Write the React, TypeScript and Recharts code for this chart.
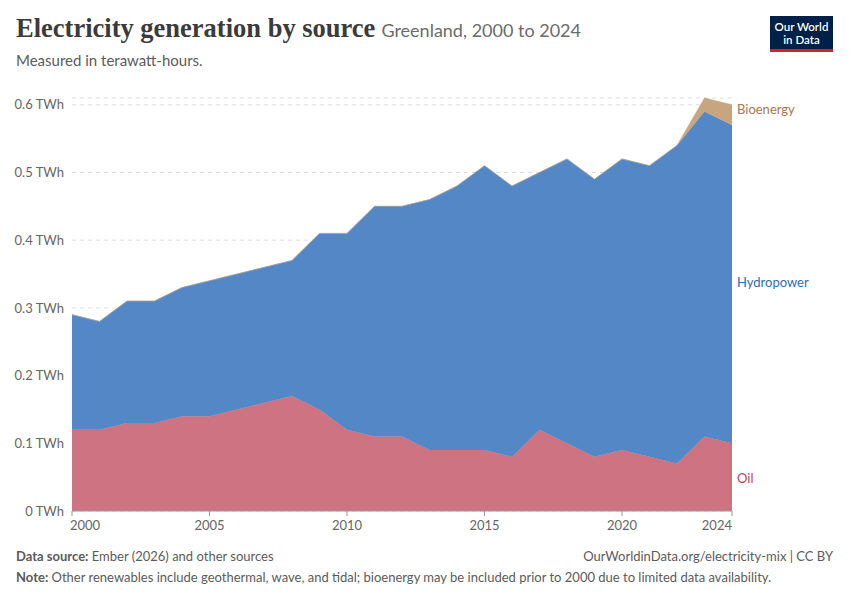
import React from "react";
import {
  AreaChart,
  Area,
  XAxis,
  YAxis,
  CartesianGrid,
} from "recharts";

const years = [
  2000, 2001, 2002, 2003, 2004, 2005, 2006, 2007, 2008, 2009, 2010, 2011, 2012,
  2013, 2014, 2015, 2016, 2017, 2018, 2019, 2020, 2021, 2022, 2023, 2024,
];
const oil = [
  0.12, 0.12, 0.13, 0.13, 0.14, 0.14, 0.15, 0.16, 0.17, 0.15, 0.12, 0.11, 0.11,
  0.09, 0.09, 0.09, 0.08, 0.12, 0.1, 0.08, 0.09, 0.08, 0.07, 0.11, 0.1,
];
const hydropower = [
  0.17, 0.16, 0.18, 0.18, 0.19, 0.2, 0.2, 0.2, 0.2, 0.26, 0.29, 0.34, 0.34,
  0.37, 0.39, 0.42, 0.4, 0.38, 0.42, 0.41, 0.43, 0.43, 0.47, 0.48, 0.47,
];
const bioenergy = [
  0, 0, 0, 0, 0, 0, 0, 0, 0, 0, 0, 0, 0, 0, 0, 0, 0, 0, 0, 0, 0, 0, 0, 0.02,
  0.03,
];
const yTicks = [0, 0.1, 0.2, 0.3, 0.4, 0.5, 0.6];
const xTicks = [2000, 2005, 2010, 2015, 2020, 2024];

const data = years.map((year, i) => ({
  year,
  oil: oil[i],
  hydropower: hydropower[i],
  bioenergy: bioenergy[i],
}));

const SANS = "Lato, 'Noto Sans', sans-serif";

// first and last year labels hug the plot edges, like OWID does
function YearTick(props: any) {
  const { x, y, payload } = props;
  const v = payload.value;
  const anchor =
    v === xTicks[0] ? "start" : v === xTicks[xTicks.length - 1] ? "end" : "middle";
  const dx = v === xTicks[0] ? -2 : 0;
  return (
    <text
      x={x + dx}
      y={y + 12}
      textAnchor={anchor}
      fill="#666"
      fontSize={13}
      fontFamily={SANS}
    >
      {v}
    </text>
  );
}

export default function App() {
  return (
    <div
      style={{
        position: "absolute",
        left: 0,
        top: 0,
        width: 850,
        height: 600,
        background: "#fff",
        fontFamily: SANS,
      }}
    >
      <div
        style={{
          position: "absolute",
          left: 16,
          top: 13,
          whiteSpace: "nowrap",
        }}
      >
        <span
          style={{
            fontFamily: "'Liberation Serif', 'DejaVu Serif', serif",
            fontSize: 26.5,
            fontWeight: 700,
            color: "#3b3b3b",
          }}
        >
          Electricity generation by source
        </span>
        <span style={{ fontSize: 18, color: "#6b6b6b", marginLeft: 6 }}>
          Greenland, 2000 to 2024
        </span>
      </div>
      <div
        style={{
          position: "absolute",
          left: 16,
          top: 51,
          fontSize: 15,
          color: "#5b5b5b",
        }}
      >
        Measured in terawatt-hours.
      </div>
      <div
        style={{
          position: "absolute",
          left: 770,
          top: 16,
          width: 63,
          height: 36,
          background: "#002147",
          borderBottom: "3px solid #ce261e",
          color: "#fff",
          fontSize: 11.5,
          lineHeight: "13px",
          textAlign: "center",
          paddingTop: 4,
          boxSizing: "border-box",
          fontWeight: 600,
        }}
      >
        Our World
        <br />
        in Data
      </div>

      <AreaChart
        width={850}
        height={600}
        data={data}
        margin={{ top: 98, right: 118, bottom: 64, left: 10 }}
        style={{ position: "absolute", left: 0, top: 0 }}
      >
        <CartesianGrid
          vertical={false}
          stroke="#dddddd"
          strokeDasharray="4 4"
        />
        <XAxis
          dataKey="year"
          type="number"
          domain={[2000, 2024]}
          ticks={xTicks}
          height={25}
          tick={<YearTick />}
          tickLine={{ stroke: "#999" }}
          axisLine={{ stroke: "#999" }}
          tickSize={5}
        />
        <YAxis
          type="number"
          domain={[0, 0.6]}
          ticks={yTicks}
          width={62}
          axisLine={false}
          tickLine={false}
          tick={{ fill: "#666", fontSize: 13, fontFamily: SANS }}
          tickFormatter={(v: number) => `${v} TWh`}
        />
        <Area
          type="linear"
          dataKey="oil"
          stackId="1"
          fill="#cd7381"
          fillOpacity={1}
          stroke="#c4707d"
          strokeWidth={0.5}
          isAnimationActive={false}
        />
        <Area
          type="linear"
          dataKey="hydropower"
          stackId="1"
          fill="#5387c6"
          fillOpacity={1}
          stroke="#7f8ea0"
          strokeWidth={0.6}
          isAnimationActive={false}
        />
        <Area
          type="linear"
          dataKey="bioenergy"
          stackId="1"
          fill="#c8a57c"
          fillOpacity={1}
          stroke="#b9a58c"
          strokeWidth={0.5}
          isAnimationActive={false}
        />
      </AreaChart>

      <div style={{ position: "absolute", left: 737, top: 101, fontSize: 13, color: "#a8774a" }}>
        Bioenergy
      </div>
      <div style={{ position: "absolute", left: 737, top: 274, fontSize: 13, color: "#2d6bb7" }}>
        Hydropower
      </div>
      <div style={{ position: "absolute", left: 737, top: 470, fontSize: 13, color: "#c0435d" }}>
        Oil
      </div>

      <div style={{ position: "absolute", left: 16, top: 548, fontSize: 13, color: "#5b5b5b" }}>
        <b>Data source:</b> Ember (2026) and other sources
      </div>
      <div
        style={{
          position: "absolute",
          right: 17,
          top: 548,
          fontSize: 13,
          color: "#5b5b5b",
        }}
      >
        OurWorldinData.org/electricity-mix | CC BY
      </div>
      <div style={{ position: "absolute", left: 16, top: 569, fontSize: 13, color: "#5b5b5b" }}>
        <b>Note:</b> Other renewables include geothermal, wave, and tidal; bioenergy may be
        included prior to 2000 due to limited data availability.
      </div>
    </div>
  );
}
